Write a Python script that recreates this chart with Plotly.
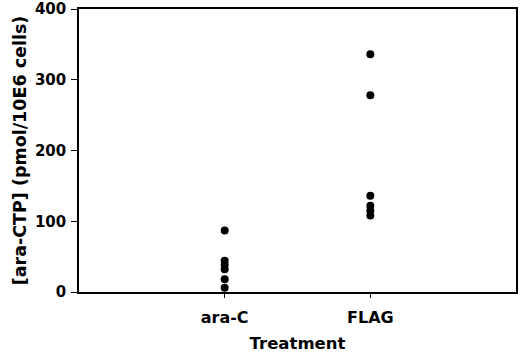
import plotly.graph_objects as go

categories = ["ara-C", "FLAG"]
ara_c_values = [87, 44, 38, 32, 18, 6]
flag_values = [336, 278, 136, 122, 115, 108]
y_ticks = [0, 100, 200, 300, 400]

FONT = "DejaVu Sans, Verdana, sans-serif"

fig = go.Figure()
for i, vals in enumerate([ara_c_values, flag_values]):
    fig.add_trace(go.Scatter(
        x=[i] * len(vals), y=vals, mode="markers",
        marker=dict(color="black", size=8), showlegend=False, cliponaxis=False))

fig.update_layout(
    width=520, height=353,
    margin=dict(l=79, r=4, t=9, b=61),
    paper_bgcolor="white", plot_bgcolor="white",
    font=dict(family=FONT, color="black"),
)
fig.update_xaxes(
    range=[-1, 2], tickmode="array", tickvals=[0, 1],
    ticktext=[f"<b>{c}</b>" for c in categories],
    tickfont=dict(size=16), ticks="outside", ticklen=4, tickcolor="black",
    ticklabelstandoff=6,
    showline=True, linecolor="black", linewidth=1.5, mirror=True,
    showgrid=False, zeroline=False, automargin=False,
    title=dict(text="<b>Treatment</b>", font=dict(size=16.5), standoff=12),
)
fig.update_yaxes(
    range=[0, 400], tickmode="array", tickvals=y_ticks,
    ticktext=[f"<b>{v}</b>" for v in y_ticks],
    tickfont=dict(size=15), ticks="outside", ticklen=6, tickcolor="black",
    ticklabelstandoff=2, ticklabeloverflow="allow",
    showline=True, linecolor="black", linewidth=1.5, mirror=True,
    showgrid=False, zeroline=False, automargin=False,
    title=dict(text="<b>[ara-CTP] (pmol/10E6 cells)</b>", font=dict(size=17.5), standoff=4),
)
fig.write_html("out.html", config={"displayModeBar": False},
               post_script="document.body.style.margin='0';")
